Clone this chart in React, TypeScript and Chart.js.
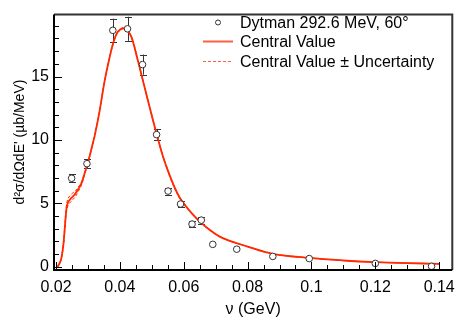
import { useEffect, useRef } from "react";
import { Chart, registerables } from "chart.js";

Chart.register(...registerables);

// Measured data points (Dytman 292.6 MeV, 60°)
const dataV = [0.0249, 0.0297, 0.0378, 0.0424, 0.0471, 0.0515, 0.0551, 0.059, 0.0626, 0.0655, 0.0691, 0.0766, 0.0879, 0.0993, 0.12, 0.1376];
const dataY = [6.98, 8.13, 18.64, 18.76, 15.94, 10.42, 5.97, 4.95, 3.37, 3.68, 1.77, 1.39, 0.82, 0.65, 0.27, 0.04];
const dataErr = [0.3, 0.35, 0.92, 0.95, 0.79, 0.45, 0.27, 0.27, 0.27, 0.27, 0.08, 0.07, 0.05, 0.04, 0.03, 0.02];

// Central value curve
const curveV = [0.0205, 0.0215, 0.0223, 0.0228, 0.0233, 0.0238, 0.0249, 0.026, 0.0269, 0.028, 0.029, 0.03, 0.0314, 0.0321, 0.0336, 0.0352, 0.0367, 0.038, 0.0393, 0.0409, 0.042, 0.0435, 0.0455, 0.0486, 0.0517, 0.0543, 0.0584, 0.0626, 0.0667, 0.0719, 0.08, 0.0879, 0.0993, 0.11, 0.12, 0.13, 0.14];
const curveY = [0.0, 0.5, 1.7, 3.2, 4.6, 5.1, 5.45, 5.75, 6.1, 6.6, 7.4, 8.2, 9.6, 10.3, 12.2, 14.6, 16.4, 17.7, 18.5, 18.8, 18.7, 18.2, 16.4, 13.3, 10.3, 8.1, 5.6, 4.2, 3.2, 2.3, 1.6, 1.03, 0.7, 0.5, 0.37, 0.29, 0.24];
// Central value ± uncertainty
const upperY = [0.0, 0.5, 1.8, 3.4, 4.9, 5.4, 5.75, 5.95, 6.25, 6.7, 7.45, 8.25, 9.65, 10.35, 12.25, 14.65, 16.45, 17.75, 18.55, 18.85, 18.75, 18.25, 16.45, 13.35, 10.35, 8.15, 5.65, 4.22, 3.22, 2.32, 1.61, 1.04, 0.71, 0.5, 0.37, 0.29, 0.24];
const lowerY = [0.0, 0.5, 1.6, 3.0, 4.4, 4.85, 5.2, 5.5, 5.9, 6.45, 7.3, 8.15, 9.55, 10.25, 12.15, 14.55, 16.35, 17.65, 18.45, 18.75, 18.65, 18.15, 16.35, 13.25, 10.25, 8.05, 5.55, 4.18, 3.18, 2.28, 1.59, 1.02, 0.69, 0.5, 0.37, 0.29, 0.24];

const xTicks = [0.02, 0.04, 0.06, 0.08, 0.1, 0.12, 0.14];
const yTicks = [0, 5, 10, 15];
const xMinorStep = 0.005;
const yMinorStep = 1;

const seriesLabels = ["Dytman 292.6 MeV, 60°", "Central Value", "Central Value ± Uncertainty"];
const xTitle = "ν (GeV)";
const yTitle = "d²σ/dΩdE' (µb/MeV)";

const FONT = "'Liberation Sans', Arial, Helvetica, sans-serif";
const RED = "#ff2a00";

export default function App() {
  const ref = useRef<HTMLCanvasElement | null>(null);

  useEffect(() => {
    document.body.style.margin = "0";
    const canvas = ref.current;
    if (!canvas) return;

    const decor = {
      id: "decor",
      beforeDatasetsDraw(chart: any) {
        const ctx = chart.ctx;
        const xs = chart.scales.x;
        const ys = chart.scales.y;
        ctx.save();
        ctx.strokeStyle = "#333";
        ctx.lineWidth = 1;
        dataV.forEach((v, i) => {
          const px = Math.round(xs.getPixelForValue(v)) + 0.5;
          const y1 = ys.getPixelForValue(dataY[i] + dataErr[i]);
          const y2 = ys.getPixelForValue(dataY[i] - dataErr[i]);
          if (y2 - y1 < 6.5) return;
          ctx.beginPath();
          ctx.moveTo(px, y1);
          ctx.lineTo(px, y2);
          ctx.moveTo(px - 3.5, Math.round(y1) + 0.5);
          ctx.lineTo(px + 3.5, Math.round(y1) + 0.5);
          ctx.moveTo(px - 3.5, Math.round(y2) + 0.5);
          ctx.lineTo(px + 3.5, Math.round(y2) + 0.5);
          ctx.stroke();
        });
        ctx.restore();
      },
      afterDraw(chart: any) {
        const ctx = chart.ctx;
        const a = chart.chartArea;
        const xs = chart.scales.x;
        const ys = chart.scales.y;
        ctx.save();
        // frame
        ctx.lineWidth = 2;
        ctx.strokeStyle = "#333";
        ctx.beginPath();
        ctx.moveTo(a.left, a.top);
        ctx.lineTo(a.right, a.top);
        ctx.lineTo(a.right, a.bottom);
        ctx.stroke();
        ctx.strokeStyle = "#000";
        ctx.beginPath();
        ctx.moveTo(a.left, a.top);
        ctx.lineTo(a.left, a.bottom);
        ctx.lineTo(a.right, a.bottom);
        ctx.stroke();
        // ticks inside
        ctx.lineWidth = 1;
        ctx.strokeStyle = "#000";
        ctx.beginPath();
        for (let k = 0; ; k++) {
          const v = xTicks[0] + k * xMinorStep;
          if (v > xs.max + 1e-9) break;
          const major = xTicks.some((t) => Math.abs(t - v) < 1e-6);
          const px = Math.round(xs.getPixelForValue(v)) + 0.5;
          if (px < a.left + 1 || px > a.right - 1) continue;
          ctx.moveTo(px, a.bottom);
          ctx.lineTo(px, a.bottom - (major ? 8 : 5));
        }
        for (let k = 0; ; k++) {
          const v = yTicks[0] + k * yMinorStep;
          if (v > ys.max + 1e-9) break;
          const major = yTicks.some((t) => Math.abs(t - v) < 1e-6);
          const py = Math.round(ys.getPixelForValue(v)) + 0.5;
          if (py < a.top + 1 || py > a.bottom - 1) continue;
          ctx.moveTo(a.left, py);
          ctx.lineTo(a.left + (major ? 8 : 5), py);
        }
        ctx.stroke();
        // axis titles
        ctx.fillStyle = "#000";
        ctx.font = `16px ${FONT}`;
        ctx.textAlign = "center";
        ctx.textBaseline = "alphabetic";
        ctx.fillText(xTitle, (a.left + a.right) / 2, 314);
        ctx.save();
        ctx.font = `14px ${FONT}`;
        ctx.translate(24, 142);
        ctx.rotate(-Math.PI / 2);
        ctx.fillText(yTitle, 0, 0);
        ctx.restore();
        // legend
        ctx.font = `16px ${FONT}`;
        ctx.textAlign = "left";
        const tx = 240;
        const base = [27.5, 47.3, 67.3];
        ctx.fillText(chart.data.datasets[0].label, tx, base[0]);
        ctx.fillText(chart.data.datasets[1].label, tx, base[1]);
        ctx.fillText(chart.data.datasets[2].label, tx, base[2]);
        ctx.strokeStyle = "#333";
        ctx.lineWidth = 1;
        ctx.fillStyle = "#fff";
        ctx.beginPath();
        ctx.arc(218, 22.5, 2.5, 0, Math.PI * 2);
        ctx.fill();
        ctx.stroke();
        ctx.strokeStyle = RED;
        ctx.globalAlpha = 0.75;
        ctx.lineWidth = 2;
        ctx.beginPath();
        ctx.moveTo(203, 41.5);
        ctx.lineTo(233, 41.5);
        ctx.stroke();
        ctx.lineWidth = 1;
        ctx.setLineDash([3, 2]);
        ctx.beginPath();
        ctx.moveTo(203, 61.5);
        ctx.lineTo(233, 61.5);
        ctx.stroke();
        ctx.restore();
      },
    };

    const curveCommon = {
      pointRadius: 0,
      tension: 0.35,
      cubicInterpolationMode: "default" as const,
    };

    const chart = new Chart(canvas, {
      type: "line",
      data: {
        datasets: [
          {
            label: seriesLabels[0],
            data: dataV.map((v, i) => ({ x: v, y: dataY[i] })),
            showLine: false,
            pointRadius: 3.3,
            pointBorderWidth: 1,
            pointBorderColor: "#333",
            pointBackgroundColor: "#fff",
            order: 0,
          },
          {
            label: seriesLabels[1],
            data: curveV.map((v, i) => ({ x: v, y: curveY[i] })),
            borderColor: RED,
            borderWidth: 1.8,
            ...curveCommon,
            order: 1,
          },
          {
            label: seriesLabels[2],
            data: curveV.map((v, i) => ({ x: v, y: upperY[i] })),
            borderColor: RED,
            borderWidth: 1,
            borderDash: [3, 2],
            ...curveCommon,
            order: 2,
          },
          {
            label: seriesLabels[2] + " (lower)",
            data: curveV.map((v, i) => ({ x: v, y: lowerY[i] })),
            borderColor: RED,
            borderWidth: 1,
            borderDash: [3, 2],
            ...curveCommon,
            order: 3,
          },
        ],
      },
      options: {
        responsive: false,
        animation: false,
        devicePixelRatio: 1,
        layout: { padding: { top: 6, right: 7, left: 0, bottom: 0 } },
        plugins: { legend: { display: false }, tooltip: { enabled: false } },
        scales: {
          x: {
            type: "linear",
            min: 0.01938,
            max: 0.1441,
            afterFit: (s: any) => {
              s.height = 57;
            },
            afterBuildTicks: (s: any) => {
              s.ticks = xTicks.map((v) => ({ value: v }));
            },
            grid: { display: false, drawTicks: false },
            border: { display: false },
            ticks: {
              padding: 8,
              maxRotation: 0,
              autoSkip: false,
              color: "#000",
              font: { family: FONT, size: 16 },
              callback: (v: any) => String(Number(v)),
            },
          },
          y: {
            type: "linear",
            min: -0.25,
            max: 19.88,
            afterFit: (s: any) => {
              s.width = 54;
            },
            afterBuildTicks: (s: any) => {
              s.ticks = yTicks.map((v) => ({ value: v }));
            },
            grid: { display: false, drawTicks: false },
            border: { display: false },
            ticks: {
              padding: 5,
              autoSkip: false,
              color: "#000",
              font: { family: FONT, size: 16 },
              callback: (v: any) => String(Number(v)),
            },
          },
        },
      },
      plugins: [decor],
    });
    return () => chart.destroy();
  }, []);

  return (
    <div style={{ width: 463, height: 327 }}>
      <canvas ref={ref} width={463} height={327} style={{ display: "block" }} />
    </div>
  );
}
